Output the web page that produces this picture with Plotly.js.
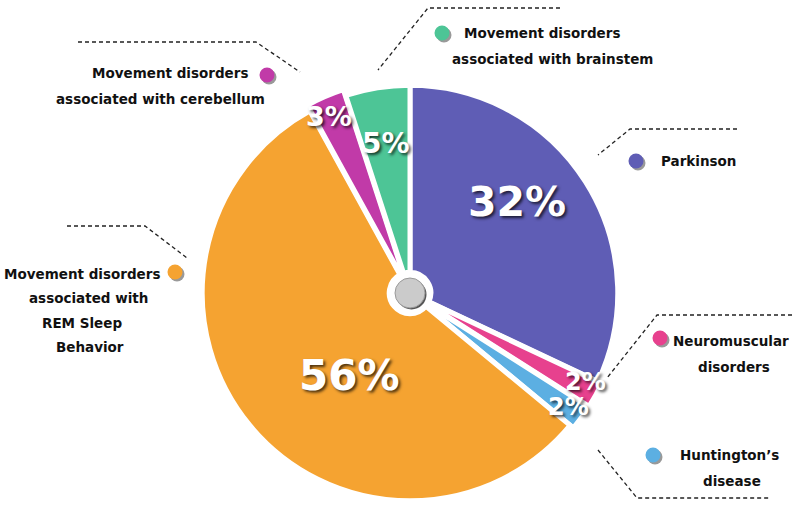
<!DOCTYPE html>
<html>
<head>
<meta charset="utf-8">
<script src="https://cdn.plot.ly/plotly-3.0.1.min.js"></script>
<style>html,body{margin:0;padding:0;background:#fff;}#chart{width:792px;height:507px;}</style>
</head>
<body>
<div id="chart"></div>
<script>
// ---- data ----
const categories = [
  "Parkinson",
  "Neuromuscular disorders",
  "Huntington's disease",
  "Movement disorders associated with REM Sleep Behavior",
  "Movement disorders associated with cerebellum",
  "Movement disorders associated with brainstem"
];
const shares = [32, 2, 2, 56, 3, 5];
const sliceColors = ["#5F5DB5", "#E7418E", "#5CAFE2", "#F5A331", "#C13AA8", "#4DC596"];
const pulls = [0, 0.02, 0.02, 0, 0.03, 0];
// label lines per slice (same order as categories)
const labelLines = [
  ["Parkinson"],
  ["Neuromuscular", "disorders"],
  ["Huntington\u2019s", "disease"],
  ["Movement disorders", "associated with", "REM Sleep", "Behavior"],
  ["Movement disorders", "associated with cerebellum"],
  ["Movement disorders", "associated with brainstem"]
];

// ---- layout helpers (pixels -> paper) ----
const W = 792, H = 507;
const px = x => x / W;
const py = y => 1 - y / H;

const cx = 410, half = 214;
const domainX = [px(cx - half), px(cx + half)];
const domainY = [0, (2 * half) / H];

const trace = {
  type: "pie",
  labels: categories,
  values: shares,
  sort: false,
  direction: "clockwise",
  rotation: 0,
  hole: 0.1,
  pull: pulls,
  domain: {x: domainX, y: domainY},
  marker: {colors: sliceColors, line: {color: "#ffffff", width: 5}},
  textinfo: "none",
  hoverinfo: "label+percent",
  showlegend: false
};

// percentage labels (text from data; placement is layout)
const pctPlace = [
  {x: 517, y: 202, size: 41},
  {x: 585, y: 382, size: 24},
  {x: 568, y: 407, size: 24},
  {x: 349, y: 375, size: 42},
  {x: 329, y: 116, size: 27},
  {x: 386, y: 143, size: 28}
];
const pctAnn = shares.map((v, i) => ({
  xref: "paper", yref: "paper", showarrow: false,
  x: px(pctPlace[i].x), y: py(pctPlace[i].y), xanchor: "center", yanchor: "middle",
  text: v + "%",
  font: {family: "DejaVu Sans", size: pctPlace[i].size, color: "#ffffff", weight: "bold",
         shadow: "2px 2px 3px rgba(0,0,0,0.7)"}
}));

// category label placement: [center x of each line], first line y
const labelPlace = [
  {xs: [698], y: 161},
  {xs: [731, 734], y: 341},
  {xs: [729, 732], y: 455},
  {xs: [82, 88, 82, 90], y: 274},
  {xs: [170, 160], y: 73},
  {xs: [542, 552], y: 33}
];
const labelFont = {family: "DejaVu Sans", size: 13.5, color: "#111111", weight: "bold"};
const labelAnn = [];
labelLines.forEach((lines, i) => {
  const steps = i === 3 ? 24.3 : 25.5;
  lines.forEach((t, j) => {
    labelAnn.push({xref: "paper", yref: "paper", showarrow: false, font: labelFont,
      x: px(labelPlace[i].xs[j]), y: py(labelPlace[i].y + j * steps),
      xanchor: "center", yanchor: "middle", text: t});
  });
});

const dash = {color: "#222222", width: 1.3, dash: "4px,3px"};
const pathOf = pts => "M " + pts.map(p => px(p[0]) + "," + py(p[1])).join(" L ");
const leaderLines = [
  [[78, 42], [256, 42], [300, 72]],
  [[560, 8], [428, 8], [378, 70]],
  [[737, 129], [630, 129], [598, 155]],
  [[792, 315], [657, 315], [607, 378]],
  [[598, 450], [637, 498], [770, 498]],
  [[67, 226], [145, 226], [187, 258]]
].map(pts => ({type: "path", xref: "paper", yref: "paper", path: pathOf(pts), line: dash}));

function dot(x, y, r, color) {
  return [
    {type: "circle", xref: "paper", yref: "paper", xsizemode: "pixel", ysizemode: "pixel",
     xanchor: px(x + 2), yanchor: py(y + 2), x0: -r, x1: r, y0: -r, y1: r,
     fillcolor: "rgba(0,0,0,0.4)", line: {width: 0}},
    {type: "circle", xref: "paper", yref: "paper", xsizemode: "pixel", ysizemode: "pixel",
     xanchor: px(x), yanchor: py(y), x0: -r, x1: r, y0: -r, y1: r,
     fillcolor: color, line: {width: 0}}
  ];
}
const dotPlace = [[636, 161], [660, 338], [653, 455], [175, 272], [267, 75], [442, 33]];
let dots = [];
dotPlace.forEach((p, i) => { dots = dots.concat(dot(p[0], p[1], 7.5, sliceColors[i])); });

const hubX = (domainX[0] + domainX[1]) / 2, hubY = (domainY[0] + domainY[1]) / 2;
const hub = [
  {type: "circle", xref: "paper", yref: "paper", xsizemode: "pixel", ysizemode: "pixel",
   xanchor: hubX + px(1.5), yanchor: hubY - 1.5 / H, x0: -15, x1: 15, y0: -15, y1: 15,
   fillcolor: "#555555", line: {width: 0}},
  {type: "circle", xref: "paper", yref: "paper", xsizemode: "pixel", ysizemode: "pixel",
   xanchor: hubX, yanchor: hubY, x0: -15, x1: 15, y0: -15, y1: 15,
   fillcolor: "#CBCBCB", line: {color: "#9a9a9a", width: 1}}
];

const layout = {
  width: W, height: H,
  margin: {l: 0, r: 0, t: 0, b: 0},
  paper_bgcolor: "#ffffff",
  plot_bgcolor: "#ffffff",
  showlegend: false,
  annotations: pctAnn.concat(labelAnn),
  shapes: leaderLines.concat(dots, hub)
};

Plotly.newPlot("chart", [trace], layout, {displayModeBar: false, staticPlot: true});
</script>
</body>
</html>
